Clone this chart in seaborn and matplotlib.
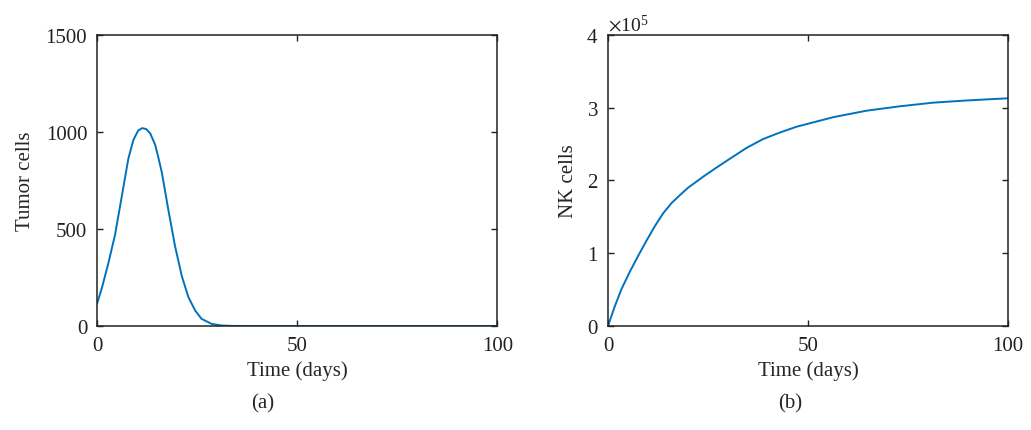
import numpy as np
import pandas as pd
import matplotlib
matplotlib.use("Agg")
import matplotlib.pyplot as plt
import seaborn as sns
from matplotlib.ticker import ScalarFormatter

# tumor cells over time
tumor_days = [0, 1.2, 2.8, 4.5, 6.2, 7.8, 8.5, 9.1, 10.3, 11.3, 12.3, 13.3, 14.5,
              15.3, 16.2, 17.8, 19.5, 21.2, 22.8, 24.5, 26.1, 28.6, 31.1, 34, 38,
              45, 60, 80, 100]
tumor_cells = [114, 195, 321, 470, 670, 860, 915, 960, 1008, 1020, 1015, 992, 935,
               870, 790, 600, 410, 255, 150, 80, 37, 11, 2.5, 0.4, 0,
               0, 0, 0, 0]

# NK cells over time, in units of 1e5
nk_days = [0, 1.7, 3.4, 5.5, 7.6, 9.7, 11.8, 13.8, 15.9, 18, 20, 22, 24, 27.2,
           30.5, 34.7, 38.8, 43, 47.2, 56.3, 64.7, 73, 81.3, 89.7, 100]
nk_1e5 = [0, 0.27, 0.51, 0.75, 0.97, 1.18, 1.38, 1.55, 1.69, 1.80, 1.90, 1.98, 2.06,
          2.18, 2.30, 2.45, 2.57, 2.66, 2.74, 2.87, 2.96, 3.02, 3.07, 3.10, 3.13]

df_t = pd.DataFrame({"t": tumor_days, "y": tumor_cells})
df_n = pd.DataFrame({"t": nk_days, "y": np.array(nk_1e5) * 1e5})

sns.set_style("ticks")
plt.rcParams["font.family"] = ["Liberation Serif", "DejaVu Serif"]
plt.rcParams["mathtext.fontset"] = "stix"
plt.rcParams["font.size"] = 15

line_color = "#0072BD"
edge = "#222222"

fig = plt.figure(figsize=(10.31, 4.31), dpi=100)
ax1 = fig.add_axes([0.0941, 0.2413, 0.3884, 0.6752])
ax2 = fig.add_axes([0.5897, 0.2413, 0.3880, 0.6752])

sns.lineplot(data=df_t, x="t", y="y", ax=ax1, color=line_color, linewidth=1.4)
sns.lineplot(data=df_n, x="t", y="y", ax=ax2, color=line_color, linewidth=1.4)

for ax in (ax1, ax2):
    ax.set_xlim(0, 100)
    ax.set_xticks([0, 50, 100])
    ax.set_xlabel("Time (days)", fontsize=15, labelpad=4)
    ax.tick_params(direction="in", top=True, right=True, length=4, width=1,
                   colors=edge, labelcolor="#222222", labelsize=15, pad=7)
    for s in ax.spines.values():
        s.set_visible(True)
        s.set_linewidth(1.1)
        s.set_color(edge)

ax1.set_ylim(0, 1500)
ax1.set_yticks([0, 500, 1000, 1500])
ax1.set_ylabel("Tumor cells", fontsize=15, labelpad=8)

ax2.set_ylim(0, 4e5)
ax2.set_yticks([0, 1e5, 2e5, 3e5, 4e5])
fmt = ScalarFormatter(useMathText=True)
fmt.set_powerlimits((0, 0))
ax2.yaxis.set_major_formatter(fmt)
ax2.yaxis.get_offset_text().set_fontsize(14)
ax2.set_ylabel("NK cells", fontsize=15, labelpad=6)

fig.text(0.255, 0.062, "(a)", ha="center", va="center", fontsize=15)
fig.text(0.766, 0.062, "(b)", ha="center", va="center", fontsize=15)

fig.savefig("out.png", dpi=100)
